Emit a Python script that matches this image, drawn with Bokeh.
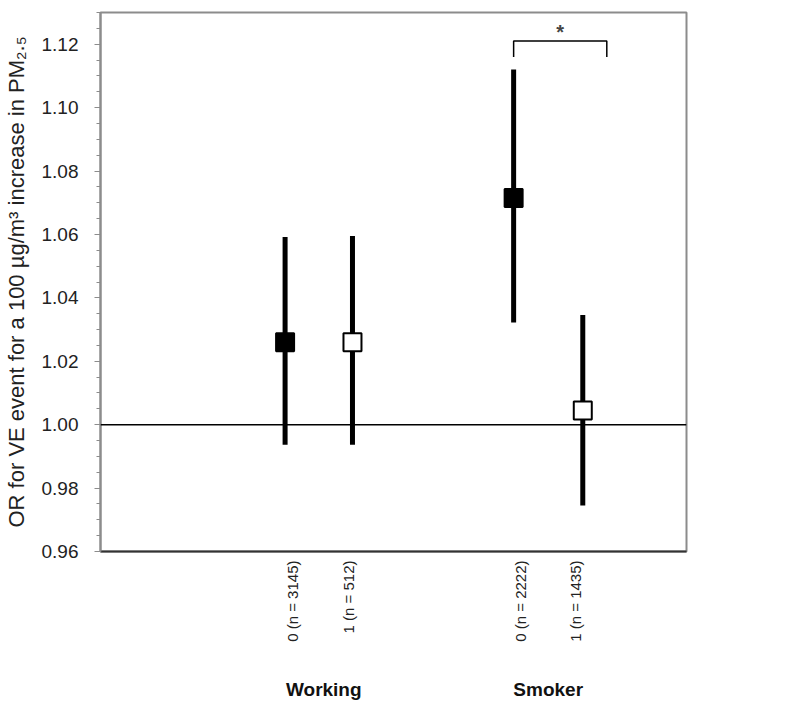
import math
from bokeh.plotting import figure
from bokeh.models import (FixedTicker, LinearAxis, Range1d, Span, ColumnDataSource, Label,
                          CustomJSTickFormatter)
from bokeh.embed import file_html
from bokeh.resources import INLINE

# ---- data ----
sub_labels = ["0 (n = 3145)", "1 (n = 512)", "0 (n = 2222)", "1 (n = 1435)"]
group_labels = ["Working", "Smoker"]
estimate = [1.026, 1.026, 1.0715, 1.0045]
lower = [0.9937, 0.9937, 1.0322, 0.9745]
upper = [1.0592, 1.0595, 1.1120, 1.0346]
filled = [True, False, True, False]

# positions on the category axis (0..10 units)
point_x = [3.15, 4.30, 7.05, 8.23]
label_x = [3.28, 4.23, 7.16, 8.11]
group_x = [3.81, 7.64]
bracket_x = [7.05, 8.64]
bracket_y = 1.121
bracket_drop = 0.005
sig_text = "*"

y_ticks = [0.96, 0.98, 1.00, 1.02, 1.04, 1.06, 1.08, 1.10, 1.12]
y_minor = [round(0.96 + 0.005 * i, 3) for i in range(35)]

FONT = "Liberation Sans"

p = figure(width=784, height=702, output_backend="svg", toolbar_location=None,
           x_range=Range1d(0, 10), y_range=Range1d(0.96, 1.13),
           min_border_left=100, min_border_right=98, min_border_top=12,
           min_border_bottom=151, x_axis_type=None)
p.background_fill_color = "white"
p.border_fill_color = "white"
p.outline_line_color = "#8c8c8c"
p.outline_line_width = 2
p.xgrid.visible = False
p.ygrid.visible = False

# y axis
ya = p.yaxis[0]
ya.ticker = FixedTicker(ticks=y_ticks, minor_ticks=y_minor)
ya.formatter = CustomJSTickFormatter(code="return tick.toFixed(2);")
ya.axis_line_color = "#8c8c8c"
ya.axis_line_width = 2
ya.major_tick_line_color = "#8c8c8c"
ya.minor_tick_line_color = "#8c8c8c"
ya.major_tick_out = 6
ya.major_tick_in = 0
ya.minor_tick_out = 4
ya.minor_tick_in = 0
ya.major_label_text_font = FONT
ya.major_label_text_font_size = "19px"
ya.major_label_text_color = "#222222"
ya.major_label_standoff = 16
ya.axis_label = "OR for VE event for a 100 µg/m³ increase in PM₂.₅"
ya.axis_label_text_font = FONT
ya.axis_label_text_font_size = "22px"
ya.axis_label_text_font_style = "normal"
ya.axis_label_text_color = "#222222"
ya.axis_label_standoff = 10

# x axis with sub labels
xa = LinearAxis(ticker=FixedTicker(ticks=label_x),
                major_label_overrides={x: s for x, s in zip(label_x, sub_labels)})
xa.major_label_orientation = math.pi / 2
xa.axis_line_color = "#333333"
xa.axis_line_width = 2
xa.major_tick_line_color = None
xa.minor_tick_line_color = None
xa.major_label_text_font = FONT
xa.major_label_text_font_size = "15px"
xa.major_label_text_color = "#222222"
xa.major_label_standoff = 3
p.add_layout(xa, "below")

# group axis
ga = LinearAxis(ticker=FixedTicker(ticks=group_x),
                major_label_overrides={x: s for x, s in zip(group_x, group_labels)})
ga.axis_line_color = None
ga.major_tick_line_color = None
ga.minor_tick_line_color = None
ga.major_label_text_font = FONT
ga.major_label_text_font_size = "19px"
ga.major_label_text_font_style = "bold"
ga.major_label_text_color = "#111111"
ga.major_label_standoff = 28
p.add_layout(ga, "below")

# reference line
p.add_layout(Span(location=1.0, dimension="width", line_color="black", line_width=1.5))

# error bars
p.segment(x0=point_x, y0=lower, x1=point_x, y1=upper, line_color="black", line_width=5)

# markers
fill = ["black" if f else "white" for f in filled]
src = ColumnDataSource(dict(x=point_x, y=estimate, fill=fill))
p.scatter("x", "y", source=src, marker="square", size=18, fill_color="fill",
          line_color="black", line_width=2)

# significance bracket
p.line(x=[bracket_x[0], bracket_x[0], bracket_x[1], bracket_x[1]],
       y=[bracket_y - bracket_drop, bracket_y, bracket_y, bracket_y - bracket_drop],
       line_color="black", line_width=1.5)
p.add_layout(Label(x=sum(bracket_x) / 2, y=bracket_y, text=sig_text, text_font=FONT,
                   text_font_size="20px", text_font_style="bold", text_align="center",
                   text_baseline="bottom", y_offset=-2))

open("out.html", "w").write(file_html(p, INLINE))
